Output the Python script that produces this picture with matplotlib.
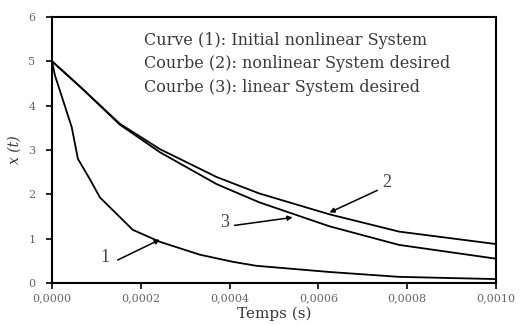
import matplotlib
matplotlib.use("Agg")
import matplotlib.pyplot as plt
from matplotlib.ticker import FuncFormatter

# courbe 1 : systeme non lineaire initial
t1 = [0.0, 0.0000067, 0.0000443, 0.0000584, 0.0000854, 0.000108, 0.000182, 0.000243,
      0.000333, 0.000407, 0.00046, 0.000625, 0.000782, 0.001]
x1 = [5.0, 4.68, 3.52, 2.80, 2.34, 1.93, 1.20, 0.93, 0.64, 0.48, 0.39, 0.25, 0.14, 0.09]

# courbe 2 : systeme non lineaire desire
t2 = [0.0, 0.000063, 0.000153, 0.000243, 0.000371, 0.000467, 0.000625, 0.000782, 0.001]
x2 = [5.0, 4.43, 3.59, 3.02, 2.39, 2.02, 1.55, 1.16, 0.88]

# courbe 3 : systeme lineaire desire
t3 = [0.0, 0.000063, 0.000153, 0.000243, 0.000371, 0.000467, 0.000625, 0.000782, 0.001]
x3 = [5.0, 4.43, 3.57, 2.95, 2.23, 1.82, 1.28, 0.86, 0.55]

legende = ["Curve (1): Initial nonlinear System",
           "Courbe (2): nonlinear System desired",
           "Courbe (3): linear System desired"]

xticks = [0.0, 0.0002, 0.0004, 0.0006, 0.0008, 0.001]
yticks = [0, 1, 2, 3, 4, 5, 6]

plt.rcParams['font.family'] = ['DejaVu Serif']

fig = plt.figure(figsize=(5.21, 3.25), dpi=100)
ax = fig.add_axes([0.0998, 0.129, 0.852, 0.819])

ax.plot(t1, x1, color='black', linewidth=1.3)
ax.plot(t2, x2, color='black', linewidth=1.3)
ax.plot(t3, x3, color='black', linewidth=1.3)

ax.set_xlim(0, 0.001)
ax.set_ylim(0, 6)
ax.set_xticks(xticks)
ax.set_yticks(yticks)
ax.xaxis.set_major_formatter(FuncFormatter(lambda v, p: ("%.4f" % v).replace('.', ',')))
ax.tick_params(direction='out', length=4, width=1.2, labelsize=8, colors='black',
               labelcolor='#666666')
ax.tick_params(axis='y', pad=8)
for s in ax.spines.values():
    s.set_linewidth(1.5)

ax.set_xlabel("Temps (s)", fontsize=11, color='#333333', labelpad=2)
ax.set_ylabel("x (t)", fontsize=10, color='#333333', style='italic', labelpad=5)

# texte de legende
for i, txt in enumerate(legende):
    ax.text(0.000208, 5.47 - i * 0.53, txt, fontsize=11.5, color='#3a3a3a', va='center')

# numeros des courbes avec fleches
fl = dict(arrowstyle='-|>', color='black', linewidth=1.1, mutation_scale=7,
          shrinkA=0, shrinkB=0)
ax.annotate("", xy=(0.000243, 0.98), xytext=(0.000148, 0.52), arrowprops=fl)
ax.text(0.000119, 0.57, "1", fontsize=13, family='Liberation Serif', color='#444444',
        ha='center', va='center')
ax.annotate("", xy=(0.000542, 1.48), xytext=(0.000411, 1.30), arrowprops=fl)
ax.text(0.000389, 1.36, "3", fontsize=13, family='Liberation Serif', color='#444444',
        ha='center', va='center')
ax.annotate("", xy=(0.000625, 1.59), xytext=(0.000733, 2.09), arrowprops=fl)
ax.text(0.000755, 2.27, "2", fontsize=13, family='Liberation Serif', color='#444444',
        ha='center', va='center')

fig.savefig("out.png", dpi=100)
